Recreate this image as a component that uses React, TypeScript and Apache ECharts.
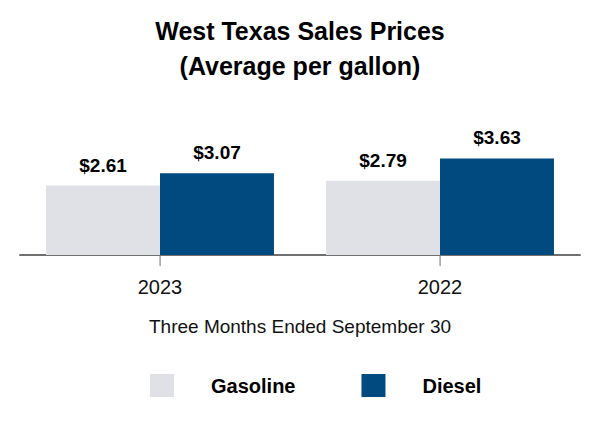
import React, { useEffect, useRef } from "react";
import * as echarts from "echarts";

const categories = ["2023", "2022"];
const gasoline = [2.61, 2.79];
const diesel = [3.07, 3.63];
const seriesNames = ["Gasoline", "Diesel"];
const titleLines = ["West Texas Sales Prices", "(Average per gallon)"];
const axisName = "Three Months Ended September 30";

const FONT = "'Liberation Sans', Arial, sans-serif";

export default function App() {
  const ref = useRef<HTMLDivElement>(null);
  useEffect(() => {
    if (!ref.current) return;
    const chart = echarts.init(ref.current, undefined, { renderer: "svg" });
    const label = {
      show: true,
      position: "top",
      distance: 11,
      fontFamily: FONT,
      fontWeight: "bold",
      fontSize: 19,
      color: "#000",
      formatter: (p: any) => "$" + p.value.toFixed(2),
    };
    chart.setOption({
      animation: false,
      textStyle: { fontFamily: FONT },
      title: {
        text: titleLines.join("\n"),
        left: "center",
        top: 13,
        padding: 0,
        textStyle: {
          fontFamily: FONT,
          fontWeight: "bold",
          fontSize: 25,
          lineHeight: 35,
          color: "#000",
        },
      },
      grid: { left: 20, right: 20, top: 122, bottom: 175, containLabel: false },
      legend: {
        left: 150,
        top: 374,
        padding: 0,
        itemWidth: 24,
        itemHeight: 23,
        itemGap: 66,
        icon: "rect",
        data: seriesNames,
        textStyle: {
          fontFamily: FONT,
          fontWeight: "bold",
          fontSize: 20,
          color: "#000",
          padding: [0, 0, 0, 32],
        },
      },
      xAxis: {
        type: "category",
        data: categories,
        name: axisName,
        nameLocation: "middle",
        nameGap: 62,
        nameTextStyle: { fontFamily: FONT, fontSize: 19, color: "#111" },
        axisLine: { show: true, onZero: false, lineStyle: { color: "#707070", width: 2 } },
        axisTick: { show: false },
        axisLabel: { fontFamily: FONT, fontSize: 20, color: "#111", margin: 22 },
      },
      yAxis: {
        type: "value",
        min: 0,
        max: 5,
        show: false,
        splitLine: { show: false },
      },
      series: [
        {
          name: seriesNames[0],
          type: "bar",
          data: gasoline,
          barGap: "0%",
          barCategoryGap: "18.6%",
          itemStyle: { color: "#e0e1e6" },
          label,
        },
        {
          name: seriesNames[1],
          type: "bar",
          data: diesel,
          barGap: "0%",
          barCategoryGap: "18.6%",
          itemStyle: { color: "#004a7f" },
          label,
        },
      ],
    });
    const y0 = chart.convertToPixel({ yAxisIndex: 0 }, 0) as number;
    const ticks = categories.map((c, i) => {
      const x = chart.convertToPixel({ xAxisIndex: 0 }, i) as number;
      return {
        type: "rect",
        z: 100,
        shape: { x: Math.round(x) - 0.5, y: y0 + 1, width: 1.2, height: 10 },
        style: { fill: "#8c8c8c" },
        silent: true,
      };
    });
    chart.setOption({ graphic: { elements: ticks } });
    return () => chart.dispose();
  }, []);
  return (
    <div
      ref={ref}
      style={{ position: "absolute", left: 0, top: 0, width: 600, height: 430 }}
    />
  );
}
